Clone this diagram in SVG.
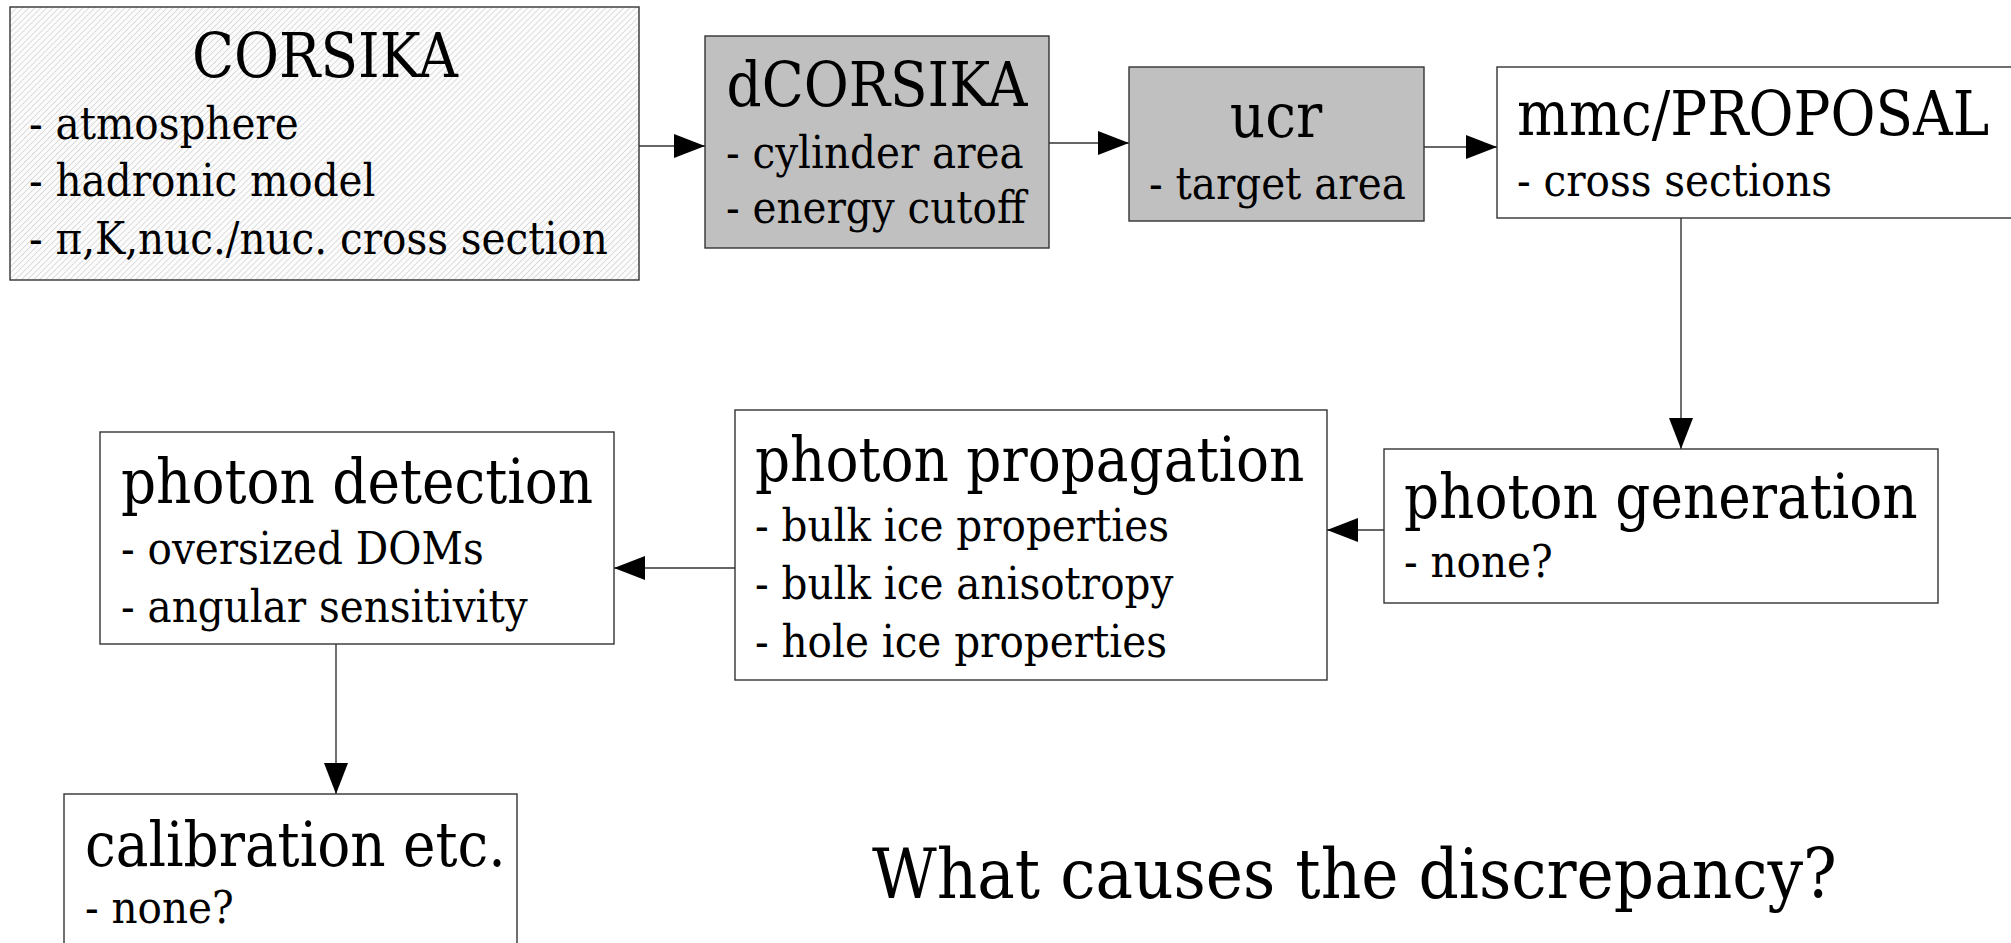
<svg xmlns="http://www.w3.org/2000/svg" width="2011" height="943" viewBox="0 0 2011 943">
<style>
text{font-family:'DejaVu Serif Condensed','DejaVu Serif',serif;font-stretch:condensed;fill:#000}
.t{font-size:61px}
.s{font-size:45px}
.box{stroke:#333;stroke-width:1.4;fill:#fff}
.gray{fill:#c0c0c0}
.c{stroke:#333;stroke-width:1.4;fill:none;marker-end:url(#ah)}
</style>
<defs>
<pattern id="hatch" patternUnits="userSpaceOnUse" width="4.25" height="4.25" patternTransform="rotate(45)">
<rect width="4.25" height="4.25" fill="#fcfcfc"/>
<line x1="0" y1="0" x2="0" y2="4.25" stroke="#bdbdbd" stroke-width="1"/>
</pattern>
<marker id="ah" markerUnits="userSpaceOnUse" markerWidth="31" markerHeight="24" refX="31" refY="12" orient="auto">
<path d="M0,0 L31,12 L0,24 Z" fill="#000"/>
</marker>
</defs>
<g id="connectors">
<line class="c" x1="639" y1="146" x2="705" y2="146"/>
<line class="c" x1="1049" y1="143" x2="1129" y2="143"/>
<line class="c" x1="1424" y1="147" x2="1497" y2="147"/>
<line class="c" x1="1681" y1="218" x2="1681" y2="449"/>
<line class="c" x1="1384" y1="530" x2="1327" y2="530"/>
<line class="c" x1="735" y1="568" x2="614" y2="568"/>
<line class="c" x1="336" y1="644" x2="336" y2="794"/>
</g>
<g id="corsika">
<rect class="box" x="10" y="7" width="629" height="273" style="fill:url(#hatch)"/>
<text class="t" x="325" y="77" text-anchor="middle">CORSIKA</text>
<text class="s" x="29" y="139">- atmosphere</text>
<text class="s" x="29" y="196">- hadronic model</text>
<text class="s" x="29" y="254">- π,K,nuc./nuc. cross section</text>
</g>
<g id="dcorsika">
<rect class="box gray" x="705" y="36" width="344" height="212"/>
<text class="t" x="877" y="106" text-anchor="middle">dCORSIKA</text>
<text class="s" x="726" y="168">- cylinder area</text>
<text class="s" x="726" y="223">- energy cutoff</text>
</g>
<g id="ucr">
<rect class="box gray" x="1129" y="67" width="295" height="154"/>
<text class="t" x="1276" y="137" text-anchor="middle">ucr</text>
<text class="s" x="1149" y="199">- target area</text>
</g>
<g id="mmc">
<rect class="box" x="1497" y="67" width="600" height="151"/>
<text class="t" x="1517" y="135">mmc/PROPOSAL</text>
<text class="s" x="1517" y="196">- cross sections</text>
</g>
<g id="photon-generation">
<rect class="box" x="1384" y="449" width="554" height="154"/>
<text class="t" x="1404" y="518">photon generation</text>
<text class="s" x="1404" y="577">- none?</text>
</g>
<g id="photon-propagation">
<rect class="box" x="735" y="410" width="592" height="270"/>
<text class="t" x="755" y="481">photon propagation</text>
<text class="s" x="755" y="541">- bulk ice properties</text>
<text class="s" x="755" y="599">- bulk ice anisotropy</text>
<text class="s" x="755" y="657">- hole ice properties</text>
</g>
<g id="photon-detection">
<rect class="box" x="100" y="432" width="514" height="212"/>
<text class="t" x="121" y="503">photon detection</text>
<text class="s" x="121" y="564">- oversized DOMs</text>
<text class="s" x="121" y="622">- angular sensitivity</text>
</g>
<g id="calibration">
<rect class="box" x="64" y="794" width="453" height="170"/>
<text class="t" x="85" y="866">calibration etc.</text>
<text class="s" x="85" y="923">- none?</text>
</g>
<g id="question">
<text x="872" y="898" font-size="70">What causes the discrepancy?</text>
</g>
</svg>
